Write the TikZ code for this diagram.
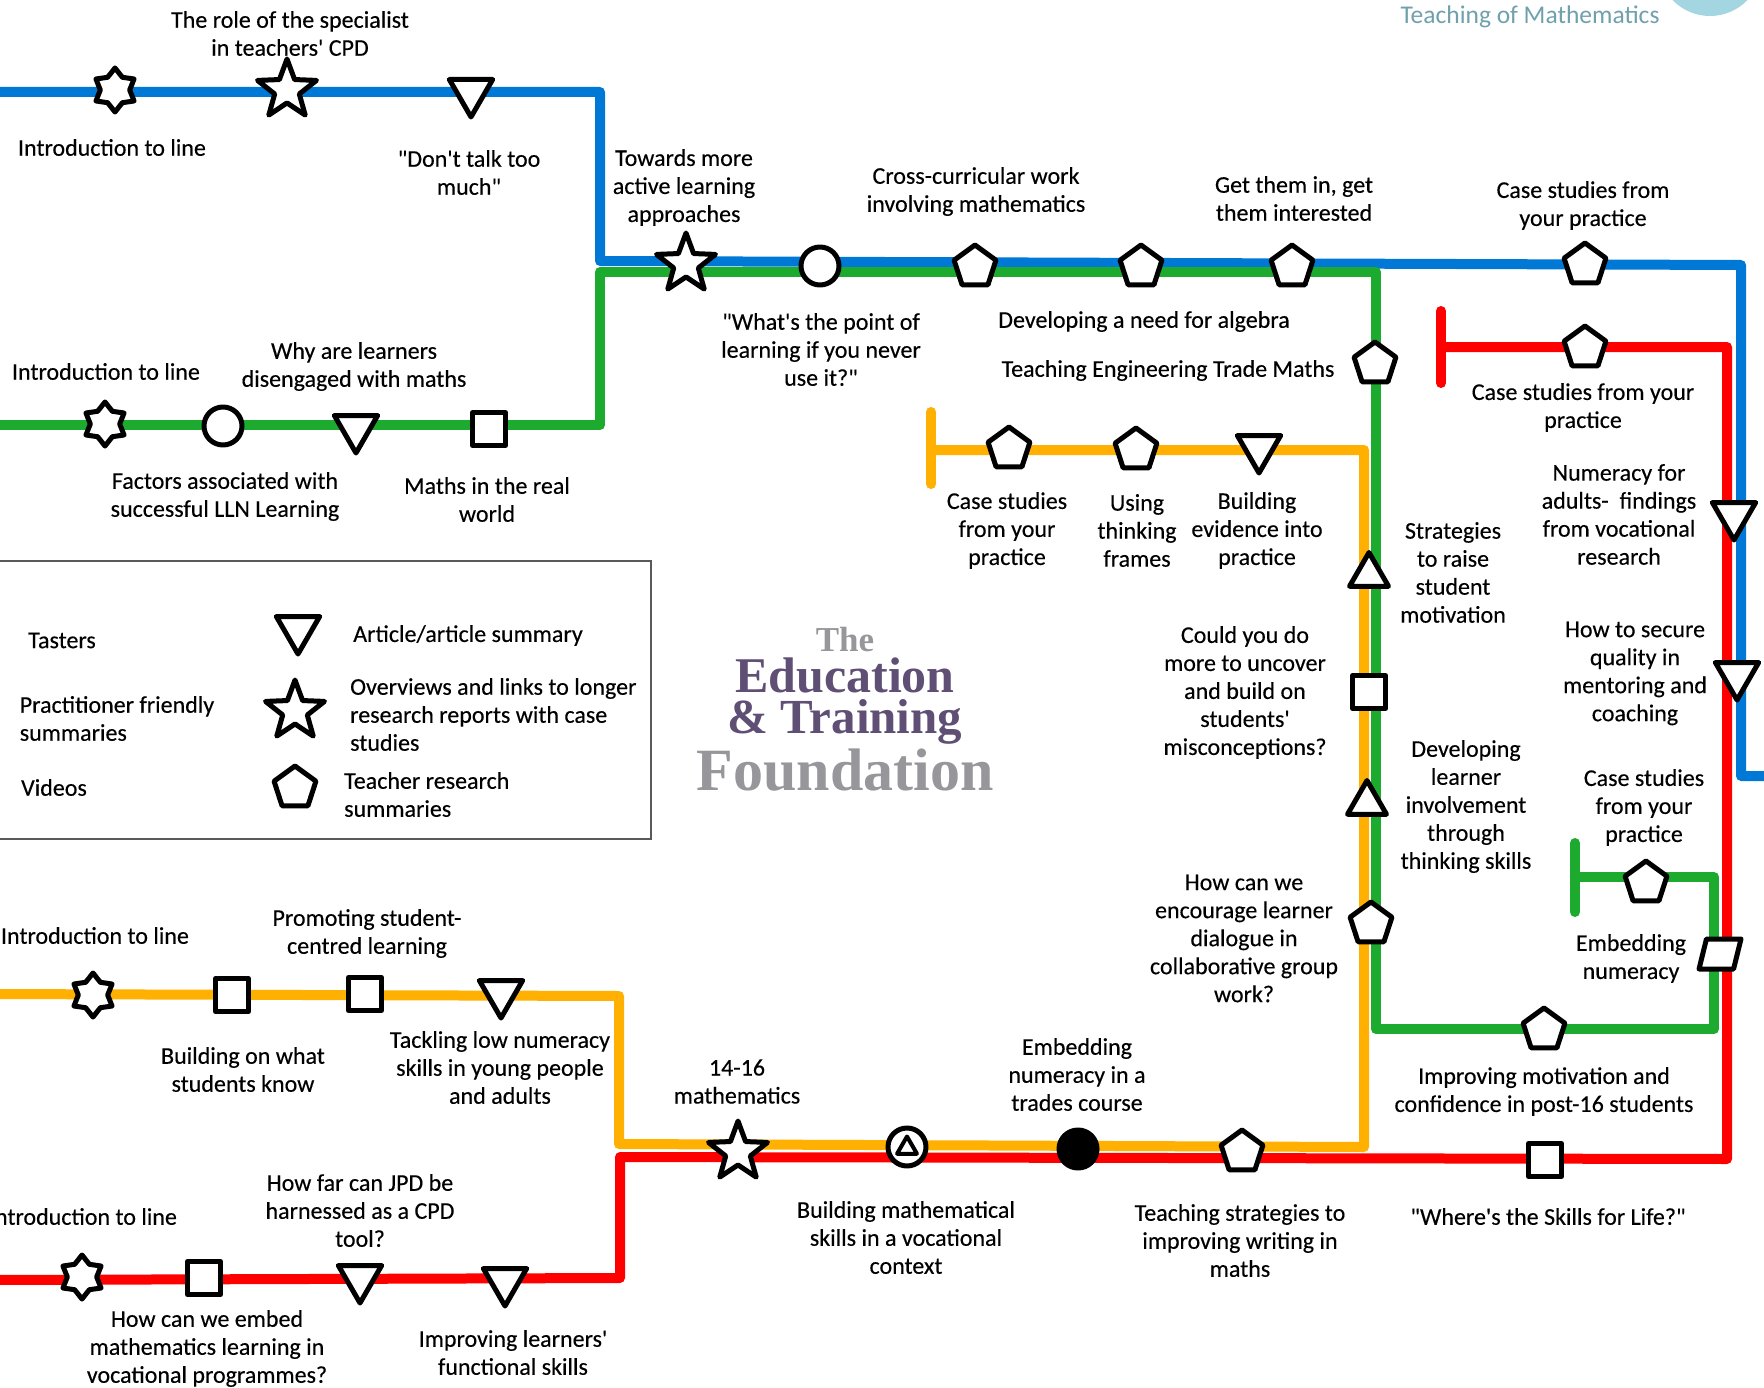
\documentclass[tikz,border=0pt]{standalone}
\usepackage{fontspec}
\setmainfont[FakeBold=0.3,Ligatures=TeXOff]{Carlito}
\newfontfamily\logofont{Liberation Serif}
\usetikzlibrary{shapes.geometric,backgrounds}
\definecolor{lineblue}{HTML}{0079D6}
\definecolor{linegreen}{HTML}{1DAB2F}
\definecolor{linered}{HTML}{FF0000}
\definecolor{lineorange}{HTML}{FFB000}
\definecolor{logopurple}{HTML}{5F4F75}
\definecolor{logogrey}{HTML}{96969B}
\definecolor{logoteal}{HTML}{6FA0AC}
\definecolor{logodisc}{HTML}{A4D6E2}

\begin{document}
\begin{tikzpicture}[x=1pt,y=-1pt,
    base node/.style={draw=black,fill=white,line width=5pt,line join=round,inner sep=0pt,outer sep=0pt},
    pent/.style={base node,regular polygon,regular polygon sides=5,minimum size=44pt},
    tridown/.style={base node,regular polygon,regular polygon sides=3,shape border rotate=180,minimum size=50pt},
    triup/.style={base node,regular polygon,regular polygon sides=3,minimum size=45pt},
    sqr/.style={base node,rectangle,minimum size=33pt},
    ring/.style={base node,circle,minimum size=38pt},
    dot/.style={base node,circle,fill=black,minimum size=38pt},
    starsix/.style={base node,star,star points=6,star point ratio=1.5,minimum size=44pt},
    starfive/.style={base node,star,star points=5,star point ratio=2.4,minimum size=62pt},
    slant/.style={base node,trapezium,trapezium left angle=70,trapezium right angle=110,minimum width=42pt,minimum height=30pt,trapezium stretches=true},
    lbl/.style={align=center,inner sep=0pt,yshift=-1.5pt,font=\fontsize{24}{28}\selectfont},
    lbll/.style={lbl,align=left},
    logotext/.style={inner sep=0pt},
    metro/.style={line width=10pt,line join=round,line cap=round}]

\useasboundingbox (0,0) rectangle (1764,1388);

\node[circle,fill=logodisc,minimum size=104pt] (logoblob) at (1710,-36) {};
\node[lbl,text=logoteal,font=\fontsize{25.5}{30}\logofont\selectfont\fontspec{Carlito}] (logoteach) at (1530,15) {Teaching of Mathematics};

\node[logotext,text=logogrey,font=\fontsize{35}{40}\selectfont\logofont\bfseries] (logothe) at (845,640) {The};
\node[logotext,text=logopurple,font=\fontsize{50}{52}\selectfont\logofont\bfseries] (logoedu) at (845,675) {Education};
\node[logotext,text=logopurple,font=\fontsize{49}{52}\selectfont\logofont\bfseries] (logotrain) at (845,722) {\& Training};
\node[logotext,text=logogrey,font=\fontsize{60}{62}\selectfont\logofont\bfseries] (logofound) at (845,770) {Foundation};

\node[draw=black!65,line width=2pt,minimum width=660pt,minimum height=278pt] (legend) at (321,700) {};
\node[lbl] (legtaster) at (62,639) {Tasters};
\node[lbll] (legprac) at (117,717) {Practitioner friendly\\summaries};
\node[lbl] (legvideo) at (54,786) {Videos};
\node[tridown] (legtri) at (298,629) {};
\node[starfive] (legstar) at (295,711) {};
\node[pent] (legpent) at (295,788) {};
\node[lbl] (legarticle) at (468,634) {Article/article summary};
\node[lbll,anchor=west] (legover) at (350,713) {Overviews and links to longer\\research reports with case\\studies};
\node[lbll,anchor=west] (legteach) at (344,793) {Teacher research\\summaries};

\coordinate (bwest) at (-10,92);
\coordinate (bc1) at (600,92);
\coordinate (bc2) at (600,261);
\coordinate (bc3) at (1741,265);
\coordinate (bc4) at (1741,776);
\coordinate (beast) at (1774,776);
\coordinate (gwest) at (-10,425);
\coordinate (gc1) at (600,425);
\coordinate (gc2) at (600,272);
\coordinate (gc3) at (1376,272);
\coordinate (gc4) at (1376,1029);
\coordinate (gc5) at (1714,1029);
\coordinate (gc6) at (1714,877);
\coordinate (gend) at (1575,877);
\coordinate (gtop) at (1575,843);
\coordinate (gbot) at (1575,912);
\coordinate (rtop) at (1441,311);
\coordinate (rbot) at (1441,383);
\coordinate (rstart) at (1441,347);
\coordinate (rc1) at (1727,347);
\coordinate (rc2) at (1727,1159);
\coordinate (rc3) at (620,1157);
\coordinate (rc4) at (620,1278);
\coordinate (rwest) at (-10,1280);
\coordinate (otop) at (931,412);
\coordinate (obot) at (931,484);
\coordinate (ostart) at (931,450);
\coordinate (oc1) at (1364,450);
\coordinate (oc2) at (1364,1147);
\coordinate (oc3) at (619,1144);
\coordinate (oc4) at (619,996);
\coordinate (owest) at (-10,994);

\node[starsix] (b1) at (115,90) {};
\node[starfive] (b2) at (287,90) {};
\node[tridown] (b3) at (471,92) {};
\node[starfive] (bg1) at (686,264) {};
\node[ring] (bg2) at (820,266) {};
\node[pent] (bg3) at (975,267) {};
\node[pent] (bg4) at (1141,267) {};
\node[pent] (bg5) at (1292,267) {};
\node[pent] (b4) at (1585,265) {};

\node[starsix] (g1) at (105,424) {};
\node[ring] (g2) at (223,426) {};
\node[tridown] (g3) at (356,428) {};
\node[sqr] (g4) at (489,429) {};
\node[pent] (g5) at (1375,364) {};
\node[pent] (g6) at (1544,1030) {};
\node[pent] (g7) at (1646,883) {};

\node[pent] (r1) at (1585,348) {};
\node[tridown] (r2) at (1734,515) {};
\node[tridown] (r3) at (1737,675) {};
\node[slant] (rg1) at (1720,954) {\phantom{M}};
\node[sqr] (r4) at (1545,1160) {};

\node[pent] (o1) at (1009,449) {};
\node[pent] (o2) at (1136,450) {};
\node[tridown] (o3) at (1259,448) {};
\node[triup] (o4) at (1369,575) {};
\node[sqr] (o5) at (1369,692) {};
\node[triup] (o6) at (1367,803) {};
\node[pent] (o7) at (1371,924) {};
\node[pent] (or1) at (1242,1152) {};
\node[dot] (or2) at (1078,1149) {};
\node[ring] (or3) at (907,1147) {};
\node[base node,regular polygon,regular polygon sides=3,minimum size=23pt,line width=4pt,fill=none] (or3t) at (907,1148) {};
\node[starfive] (or4) at (738,1152) {};

\node[starsix] (o8) at (93,995) {};
\node[sqr] (o9) at (232,995) {};
\node[sqr] (o10) at (365,994) {};
\node[tridown] (o11) at (501,993) {};

\node[starsix] (r5) at (82,1277) {};
\node[sqr] (r6) at (204,1278) {};
\node[tridown] (r7) at (360,1278) {};
\node[tridown] (r8) at (505,1281) {};

\begin{pgfonlayer}{background}
\draw[metro,lineblue] (bwest) -- (bc1) -- (bc2) -- (bc3) -- (bc4) -- (beast);
\draw[metro,linered] (rtop) -- (rbot);
\draw[metro,linered] (rstart) -- (rc1) -- (rc2) -- (rc3) -- (rc4) -- (rwest);
\draw[metro,linegreen] (gwest) -- (gc1) -- (gc2) -- (gc3) -- (gc4) -- (gc5) -- (gc6) -- (gend);
\draw[metro,linegreen] (gtop) -- (gbot);
\draw[metro,lineorange] (otop) -- (obot);
\draw[metro,lineorange] (ostart) -- (oc1) -- (oc2) -- (oc3) -- (oc4) -- (owest);
\end{pgfonlayer}

\node[lbl] (t1) at (290,32) {The role of the specialist\\in teachers' CPD};
\node[lbl] (t2) at (112,146) {Introduction to line};
\node[lbl] (t3) at (469,171) {"Don't talk too\\much"};
\node[lbl] (t4) at (684,186) {Towards more\\active learning\\approaches};
\node[lbl] (t5) at (976,190) {Cross-curricular work\\involving mathematics};
\node[lbl] (t6) at (1294,197) {Get them in, get\\them interested};
\node[lbl] (t7) at (1583,204) {Case studies from\\your practice};
\node[lbl] (t8) at (821,348) {"What's the point of\\learning if you never\\use it?"};
\node[lbl] (t9) at (1144,320) {Developing a need for algebra};
\node[lbl] (t10) at (1168,369) {Teaching Engineering Trade Maths};
\node[lbl] (t11) at (1583,406) {Case studies from your\\practice};
\node[lbl] (t12) at (106,370) {Introduction to line};
\node[lbl] (t13) at (354,365) {Why are learners\\disengaged with maths};
\node[lbl] (t14) at (225,495) {Factors associated with\\successful LLN Learning};
\node[lbl] (t15) at (487,498) {Maths in the real\\world};
\node[lbl] (t16) at (1007,529) {Case studies\\from your\\practice};
\node[lbl] (t17) at (1137,529) {Using\\thinking\\frames};
\node[lbl] (t18) at (1257,529) {Building\\evidence into\\practice};
\node[lbl] (t19) at (1453,571) {Strategies\\to raise\\student\\motivation};
\node[lbl] (t20) at (1619,513) {Numeracy for\\adults-\ \ findings\\from vocational\\research};
\node[lbl] (t21) at (1635,672) {How to secure\\quality in\\mentoring and\\coaching};
\node[lbl] (t22) at (1245,691) {Could you do\\more to uncover\\and build on\\students'\\misconceptions?};
\node[lbl] (t23) at (1466,805) {Developing\\learner\\involvement\\through\\thinking skills};
\node[lbl] (t24) at (1644,806) {Case studies\\from your\\practice};
\node[lbl] (t25) at (1244,937) {How can we\\encourage learner\\dialogue in\\collaborative group\\work?};
\node[lbl] (t26) at (1631,957) {Embedding\\numeracy};
\node[lbl] (t27) at (1544,1090) {Improving motivation and\\confidence in post-16 students};
\node[lbl] (t28) at (1548,1215) {"Where's the Skills for Life?"};
\node[lbl] (t29) at (95,934) {Introduction to line};
\node[lbl] (t30) at (367,932) {Promoting student-\\centred learning};
\node[lbl] (t31) at (243,1068) {Building on what\\students know};
\node[lbl] (t32) at (500,1066) {Tackling low numeracy\\skills in young people\\and adults};
\node[lbl] (t33) at (737,1080) {14-16\\mathematics};
\node[lbl] (t34) at (1077,1073) {Embedding\\numeracy in a\\trades course};
\node[lbl] (t35) at (906,1236) {Building mathematical\\skills in a vocational\\context};
\node[lbl] (t36) at (1240,1239) {Teaching strategies to\\improving writing in\\maths};
\node[lbl] (t37) at (83,1215) {Introduction to line};
\node[lbl] (t38) at (360,1209) {How far can JPD be\\harnessed as a CPD\\tool?};
\node[lbl] (t39) at (207,1347) {How can we embed\\mathematics learning in\\vocational programmes?};
\node[lbl] (t40) at (513,1351) {Improving learners'\\functional skills};
\end{tikzpicture}
\end{document}
